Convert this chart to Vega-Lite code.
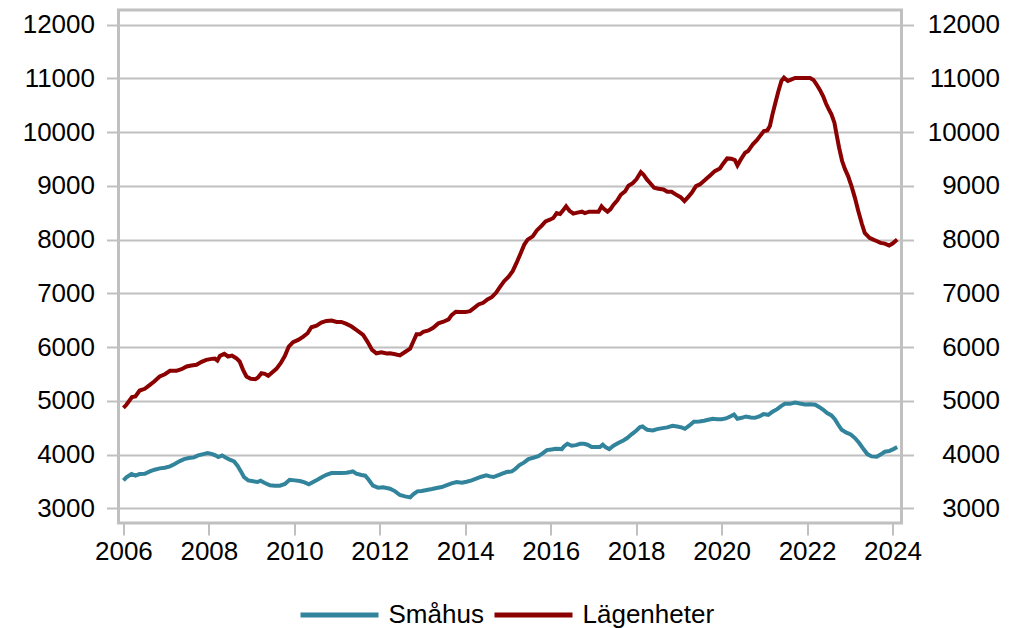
{
  "$schema": "https://vega.github.io/schema/vega-lite/v6.json",
  "autosize": {"type": "none"},
  "width": 783,
  "height": 513,
  "padding": {"left": 118.5, "top": 10, "right": 120.5, "bottom": 105},
  "background": "white",
  "config": {
    "view": {"stroke": "#c0c0c0", "strokeWidth": 3},
    "font": "Liberation Sans",
    "axis": {"labelFont": "Liberation Sans", "labelColor": "#000000", "labelFontSize": 26, "tickColor": "#c0c0c0", "tickWidth": 2, "tickSize": 12, "domain": false, "title": null},
    "legend": {"labelFont": "Liberation Sans"}
  },
  "datasets": {
    "main": [
      {"d": 2006.0, "s": "Småhus", "v": 3520},
      {"d": 2006.07, "s": "Småhus", "v": 3576},
      {"d": 2006.19, "s": "Småhus", "v": 3638},
      {"d": 2006.28, "s": "Småhus", "v": 3607},
      {"d": 2006.38, "s": "Småhus", "v": 3638},
      {"d": 2006.5, "s": "Småhus", "v": 3644},
      {"d": 2006.62, "s": "Småhus", "v": 3687},
      {"d": 2006.73, "s": "Småhus", "v": 3718},
      {"d": 2006.85, "s": "Småhus", "v": 3743},
      {"d": 2006.97, "s": "Småhus", "v": 3755},
      {"d": 2007.09, "s": "Småhus", "v": 3780},
      {"d": 2007.2, "s": "Småhus", "v": 3824},
      {"d": 2007.32, "s": "Småhus", "v": 3879},
      {"d": 2007.42, "s": "Småhus", "v": 3916},
      {"d": 2007.53, "s": "Småhus", "v": 3935},
      {"d": 2007.65, "s": "Småhus", "v": 3947},
      {"d": 2007.75, "s": "Småhus", "v": 3985},
      {"d": 2007.87, "s": "Småhus", "v": 4009},
      {"d": 2007.97, "s": "Småhus", "v": 4028},
      {"d": 2008.08, "s": "Småhus", "v": 4009},
      {"d": 2008.15, "s": "Småhus", "v": 3985},
      {"d": 2008.22, "s": "Småhus", "v": 3954},
      {"d": 2008.31, "s": "Småhus", "v": 3985},
      {"d": 2008.39, "s": "Småhus", "v": 3947},
      {"d": 2008.49, "s": "Småhus", "v": 3904},
      {"d": 2008.59, "s": "Småhus", "v": 3873},
      {"d": 2008.67, "s": "Småhus", "v": 3793},
      {"d": 2008.75, "s": "Småhus", "v": 3687},
      {"d": 2008.82, "s": "Småhus", "v": 3582},
      {"d": 2008.92, "s": "Småhus", "v": 3520},
      {"d": 2009.04, "s": "Småhus", "v": 3502},
      {"d": 2009.14, "s": "Småhus", "v": 3489},
      {"d": 2009.21, "s": "Småhus", "v": 3514},
      {"d": 2009.31, "s": "Småhus", "v": 3471},
      {"d": 2009.43, "s": "Småhus", "v": 3427},
      {"d": 2009.54, "s": "Småhus", "v": 3421},
      {"d": 2009.66, "s": "Småhus", "v": 3421},
      {"d": 2009.78, "s": "Småhus", "v": 3452},
      {"d": 2009.89, "s": "Småhus", "v": 3532},
      {"d": 2010.01, "s": "Småhus", "v": 3520},
      {"d": 2010.13, "s": "Småhus", "v": 3508},
      {"d": 2010.24, "s": "Småhus", "v": 3483},
      {"d": 2010.34, "s": "Småhus", "v": 3446},
      {"d": 2010.44, "s": "Småhus", "v": 3489},
      {"d": 2010.54, "s": "Småhus", "v": 3532},
      {"d": 2010.65, "s": "Småhus", "v": 3582},
      {"d": 2010.75, "s": "Småhus", "v": 3625},
      {"d": 2010.87, "s": "Småhus", "v": 3656},
      {"d": 2010.99, "s": "Småhus", "v": 3656},
      {"d": 2011.1, "s": "Småhus", "v": 3656},
      {"d": 2011.22, "s": "Småhus", "v": 3663},
      {"d": 2011.31, "s": "Småhus", "v": 3675},
      {"d": 2011.37, "s": "Småhus", "v": 3687},
      {"d": 2011.45, "s": "Småhus", "v": 3644},
      {"d": 2011.57, "s": "Småhus", "v": 3619},
      {"d": 2011.66, "s": "Småhus", "v": 3607},
      {"d": 2011.74, "s": "Småhus", "v": 3532},
      {"d": 2011.84, "s": "Småhus", "v": 3421},
      {"d": 2011.96, "s": "Småhus", "v": 3384},
      {"d": 2012.08, "s": "Småhus", "v": 3390},
      {"d": 2012.24, "s": "Småhus", "v": 3365},
      {"d": 2012.36, "s": "Småhus", "v": 3316},
      {"d": 2012.47, "s": "Småhus", "v": 3248},
      {"d": 2012.59, "s": "Småhus", "v": 3223},
      {"d": 2012.71, "s": "Småhus", "v": 3204},
      {"d": 2012.79, "s": "Småhus", "v": 3266},
      {"d": 2012.88, "s": "Småhus", "v": 3316},
      {"d": 2012.98, "s": "Småhus", "v": 3322},
      {"d": 2013.1, "s": "Småhus", "v": 3341},
      {"d": 2013.22, "s": "Småhus", "v": 3359},
      {"d": 2013.33, "s": "Småhus", "v": 3378},
      {"d": 2013.45, "s": "Småhus", "v": 3396},
      {"d": 2013.57, "s": "Småhus", "v": 3433},
      {"d": 2013.68, "s": "Småhus", "v": 3464},
      {"d": 2013.8, "s": "Småhus", "v": 3489},
      {"d": 2013.92, "s": "Småhus", "v": 3477},
      {"d": 2014.03, "s": "Småhus", "v": 3495},
      {"d": 2014.15, "s": "Småhus", "v": 3520},
      {"d": 2014.27, "s": "Småhus", "v": 3557},
      {"d": 2014.38, "s": "Småhus", "v": 3588},
      {"d": 2014.49, "s": "Småhus", "v": 3613},
      {"d": 2014.58, "s": "Småhus", "v": 3594},
      {"d": 2014.66, "s": "Småhus", "v": 3582},
      {"d": 2014.78, "s": "Småhus", "v": 3619},
      {"d": 2014.88, "s": "Småhus", "v": 3650},
      {"d": 2014.97, "s": "Småhus", "v": 3675},
      {"d": 2015.09, "s": "Småhus", "v": 3687},
      {"d": 2015.17, "s": "Småhus", "v": 3731},
      {"d": 2015.27, "s": "Småhus", "v": 3805},
      {"d": 2015.38, "s": "Småhus", "v": 3854},
      {"d": 2015.48, "s": "Småhus", "v": 3916},
      {"d": 2015.59, "s": "Småhus", "v": 3941},
      {"d": 2015.71, "s": "Småhus", "v": 3972},
      {"d": 2015.81, "s": "Småhus", "v": 4022},
      {"d": 2015.91, "s": "Småhus", "v": 4084},
      {"d": 2016.02, "s": "Småhus", "v": 4096},
      {"d": 2016.12, "s": "Småhus", "v": 4108},
      {"d": 2016.26, "s": "Småhus", "v": 4102},
      {"d": 2016.31, "s": "Småhus", "v": 4152},
      {"d": 2016.39, "s": "Småhus", "v": 4201},
      {"d": 2016.49, "s": "Småhus", "v": 4164},
      {"d": 2016.59, "s": "Småhus", "v": 4176},
      {"d": 2016.69, "s": "Småhus", "v": 4201},
      {"d": 2016.78, "s": "Småhus", "v": 4201},
      {"d": 2016.86, "s": "Småhus", "v": 4183},
      {"d": 2016.96, "s": "Småhus", "v": 4139},
      {"d": 2017.06, "s": "Småhus", "v": 4139},
      {"d": 2017.15, "s": "Småhus", "v": 4139},
      {"d": 2017.22, "s": "Småhus", "v": 4183},
      {"d": 2017.29, "s": "Småhus", "v": 4133},
      {"d": 2017.37, "s": "Småhus", "v": 4102},
      {"d": 2017.47, "s": "Småhus", "v": 4164},
      {"d": 2017.58, "s": "Småhus", "v": 4214},
      {"d": 2017.7, "s": "Småhus", "v": 4263},
      {"d": 2017.79, "s": "Småhus", "v": 4307},
      {"d": 2017.9, "s": "Småhus", "v": 4381},
      {"d": 2018.0, "s": "Småhus", "v": 4443},
      {"d": 2018.09, "s": "Småhus", "v": 4511},
      {"d": 2018.15, "s": "Småhus", "v": 4523},
      {"d": 2018.2, "s": "Småhus", "v": 4492},
      {"d": 2018.26, "s": "Småhus", "v": 4461},
      {"d": 2018.39, "s": "Småhus", "v": 4449},
      {"d": 2018.49, "s": "Småhus", "v": 4474},
      {"d": 2018.62, "s": "Småhus", "v": 4492},
      {"d": 2018.73, "s": "Småhus", "v": 4505},
      {"d": 2018.85, "s": "Småhus", "v": 4536},
      {"d": 2018.96, "s": "Småhus", "v": 4523},
      {"d": 2019.06, "s": "Småhus", "v": 4505},
      {"d": 2019.14, "s": "Småhus", "v": 4480},
      {"d": 2019.24, "s": "Småhus", "v": 4536},
      {"d": 2019.35, "s": "Småhus", "v": 4610},
      {"d": 2019.48, "s": "Småhus", "v": 4616},
      {"d": 2019.59, "s": "Småhus", "v": 4628},
      {"d": 2019.69, "s": "Småhus", "v": 4647},
      {"d": 2019.79, "s": "Småhus", "v": 4666},
      {"d": 2019.9, "s": "Småhus", "v": 4659},
      {"d": 2020.0, "s": "Småhus", "v": 4659},
      {"d": 2020.1, "s": "Småhus", "v": 4672},
      {"d": 2020.2, "s": "Småhus", "v": 4709},
      {"d": 2020.29, "s": "Småhus", "v": 4746},
      {"d": 2020.37, "s": "Småhus", "v": 4666},
      {"d": 2020.47, "s": "Småhus", "v": 4684},
      {"d": 2020.57, "s": "Småhus", "v": 4709},
      {"d": 2020.68, "s": "Småhus", "v": 4690},
      {"d": 2020.78, "s": "Småhus", "v": 4684},
      {"d": 2020.88, "s": "Småhus", "v": 4709},
      {"d": 2020.98, "s": "Småhus", "v": 4752},
      {"d": 2021.09, "s": "Småhus", "v": 4740},
      {"d": 2021.19, "s": "Småhus", "v": 4796},
      {"d": 2021.3, "s": "Småhus", "v": 4845},
      {"d": 2021.4, "s": "Småhus", "v": 4907},
      {"d": 2021.48, "s": "Småhus", "v": 4944},
      {"d": 2021.6, "s": "Småhus", "v": 4944},
      {"d": 2021.72, "s": "Småhus", "v": 4969},
      {"d": 2021.83, "s": "Småhus", "v": 4950},
      {"d": 2021.95, "s": "Småhus", "v": 4932},
      {"d": 2022.07, "s": "Småhus", "v": 4938},
      {"d": 2022.19, "s": "Småhus", "v": 4926},
      {"d": 2022.29, "s": "Småhus", "v": 4882},
      {"d": 2022.38, "s": "Småhus", "v": 4833},
      {"d": 2022.47, "s": "Småhus", "v": 4771},
      {"d": 2022.57, "s": "Småhus", "v": 4728},
      {"d": 2022.65, "s": "Småhus", "v": 4659},
      {"d": 2022.73, "s": "Småhus", "v": 4554},
      {"d": 2022.81, "s": "Småhus", "v": 4461},
      {"d": 2022.91, "s": "Småhus", "v": 4412},
      {"d": 2023.02, "s": "Småhus", "v": 4375},
      {"d": 2023.12, "s": "Småhus", "v": 4307},
      {"d": 2023.22, "s": "Småhus", "v": 4214},
      {"d": 2023.32, "s": "Småhus", "v": 4102},
      {"d": 2023.41, "s": "Småhus", "v": 4009},
      {"d": 2023.51, "s": "Småhus", "v": 3966},
      {"d": 2023.63, "s": "Småhus", "v": 3960},
      {"d": 2023.72, "s": "Småhus", "v": 4000},
      {"d": 2023.82, "s": "Småhus", "v": 4053},
      {"d": 2023.92, "s": "Småhus", "v": 4065},
      {"d": 2024.02, "s": "Småhus", "v": 4102},
      {"d": 2024.11, "s": "Småhus", "v": 4139},
      {"d": 2006.0, "s": "Lägenheter", "v": 4870},
      {"d": 2006.07, "s": "Lägenheter", "v": 4926},
      {"d": 2006.2, "s": "Lägenheter", "v": 5068},
      {"d": 2006.28, "s": "Lägenheter", "v": 5080},
      {"d": 2006.38, "s": "Lägenheter", "v": 5192},
      {"d": 2006.5, "s": "Lägenheter", "v": 5223},
      {"d": 2006.62, "s": "Lägenheter", "v": 5297},
      {"d": 2006.72, "s": "Lägenheter", "v": 5359},
      {"d": 2006.85, "s": "Lägenheter", "v": 5452},
      {"d": 2006.97, "s": "Lägenheter", "v": 5495},
      {"d": 2007.09, "s": "Lägenheter", "v": 5557},
      {"d": 2007.24, "s": "Lägenheter", "v": 5557},
      {"d": 2007.36, "s": "Lägenheter", "v": 5588},
      {"d": 2007.48, "s": "Lägenheter", "v": 5638},
      {"d": 2007.59, "s": "Lägenheter", "v": 5656},
      {"d": 2007.71, "s": "Lägenheter", "v": 5669},
      {"d": 2007.83, "s": "Lägenheter", "v": 5724},
      {"d": 2007.94, "s": "Lägenheter", "v": 5762},
      {"d": 2008.06, "s": "Lägenheter", "v": 5780},
      {"d": 2008.14, "s": "Lägenheter", "v": 5786},
      {"d": 2008.2, "s": "Lägenheter", "v": 5749},
      {"d": 2008.26, "s": "Lägenheter", "v": 5836},
      {"d": 2008.36, "s": "Lägenheter", "v": 5873},
      {"d": 2008.45, "s": "Lägenheter", "v": 5824},
      {"d": 2008.54, "s": "Lägenheter", "v": 5842},
      {"d": 2008.64, "s": "Lägenheter", "v": 5793},
      {"d": 2008.72, "s": "Lägenheter", "v": 5731},
      {"d": 2008.8, "s": "Lägenheter", "v": 5576},
      {"d": 2008.88, "s": "Lägenheter", "v": 5452},
      {"d": 2008.98, "s": "Lägenheter", "v": 5409},
      {"d": 2009.09, "s": "Lägenheter", "v": 5402},
      {"d": 2009.15, "s": "Lägenheter", "v": 5433},
      {"d": 2009.23, "s": "Lägenheter", "v": 5514},
      {"d": 2009.31, "s": "Lägenheter", "v": 5502},
      {"d": 2009.39, "s": "Lägenheter", "v": 5464},
      {"d": 2009.48, "s": "Lägenheter", "v": 5526},
      {"d": 2009.58, "s": "Lägenheter", "v": 5594},
      {"d": 2009.68, "s": "Lägenheter", "v": 5700},
      {"d": 2009.78, "s": "Lägenheter", "v": 5836},
      {"d": 2009.87, "s": "Lägenheter", "v": 6009},
      {"d": 2009.97, "s": "Lägenheter", "v": 6090},
      {"d": 2010.09, "s": "Lägenheter", "v": 6133},
      {"d": 2010.21, "s": "Lägenheter", "v": 6195},
      {"d": 2010.31, "s": "Lägenheter", "v": 6257},
      {"d": 2010.4, "s": "Lägenheter", "v": 6368},
      {"d": 2010.52, "s": "Lägenheter", "v": 6399},
      {"d": 2010.63, "s": "Lägenheter", "v": 6455},
      {"d": 2010.75, "s": "Lägenheter", "v": 6486},
      {"d": 2010.87, "s": "Lägenheter", "v": 6492},
      {"d": 2010.99, "s": "Lägenheter", "v": 6467},
      {"d": 2011.1, "s": "Lägenheter", "v": 6467},
      {"d": 2011.22, "s": "Lägenheter", "v": 6430},
      {"d": 2011.34, "s": "Lägenheter", "v": 6381},
      {"d": 2011.45, "s": "Lägenheter", "v": 6319},
      {"d": 2011.61, "s": "Lägenheter", "v": 6226},
      {"d": 2011.71, "s": "Lägenheter", "v": 6102},
      {"d": 2011.82, "s": "Lägenheter", "v": 5947},
      {"d": 2011.92, "s": "Lägenheter", "v": 5885},
      {"d": 2012.04, "s": "Lägenheter", "v": 5904},
      {"d": 2012.16, "s": "Lägenheter", "v": 5880},
      {"d": 2012.24, "s": "Lägenheter", "v": 5883},
      {"d": 2012.36, "s": "Lägenheter", "v": 5865},
      {"d": 2012.47, "s": "Lägenheter", "v": 5846},
      {"d": 2012.59, "s": "Lägenheter", "v": 5908},
      {"d": 2012.71, "s": "Lägenheter", "v": 5970},
      {"d": 2012.79, "s": "Lägenheter", "v": 6112},
      {"d": 2012.86, "s": "Lägenheter", "v": 6236},
      {"d": 2012.94, "s": "Lägenheter", "v": 6236},
      {"d": 2013.02, "s": "Lägenheter", "v": 6285},
      {"d": 2013.14, "s": "Lägenheter", "v": 6310},
      {"d": 2013.25, "s": "Lägenheter", "v": 6359},
      {"d": 2013.37, "s": "Lägenheter", "v": 6440},
      {"d": 2013.49, "s": "Lägenheter", "v": 6471},
      {"d": 2013.61, "s": "Lägenheter", "v": 6514},
      {"d": 2013.68, "s": "Lägenheter", "v": 6594},
      {"d": 2013.78, "s": "Lägenheter", "v": 6656},
      {"d": 2013.88, "s": "Lägenheter", "v": 6650},
      {"d": 2014.0, "s": "Lägenheter", "v": 6650},
      {"d": 2014.11, "s": "Lägenheter", "v": 6669},
      {"d": 2014.21, "s": "Lägenheter", "v": 6730},
      {"d": 2014.31, "s": "Lägenheter", "v": 6792},
      {"d": 2014.42, "s": "Lägenheter", "v": 6823},
      {"d": 2014.52, "s": "Lägenheter", "v": 6885},
      {"d": 2014.62, "s": "Lägenheter", "v": 6928},
      {"d": 2014.72, "s": "Lägenheter", "v": 7009},
      {"d": 2014.81, "s": "Lägenheter", "v": 7114},
      {"d": 2014.91, "s": "Lägenheter", "v": 7225},
      {"d": 2015.01, "s": "Lägenheter", "v": 7306},
      {"d": 2015.11, "s": "Lägenheter", "v": 7411},
      {"d": 2015.2, "s": "Lägenheter", "v": 7565},
      {"d": 2015.3, "s": "Lägenheter", "v": 7751},
      {"d": 2015.38, "s": "Lägenheter", "v": 7905},
      {"d": 2015.46, "s": "Lägenheter", "v": 7998},
      {"d": 2015.58, "s": "Lägenheter", "v": 8060},
      {"d": 2015.67, "s": "Lägenheter", "v": 8165},
      {"d": 2015.79, "s": "Lägenheter", "v": 8258},
      {"d": 2015.88, "s": "Lägenheter", "v": 8338},
      {"d": 2015.98, "s": "Lägenheter", "v": 8369},
      {"d": 2016.06, "s": "Lägenheter", "v": 8400},
      {"d": 2016.14, "s": "Lägenheter", "v": 8493},
      {"d": 2016.22, "s": "Lägenheter", "v": 8474},
      {"d": 2016.3, "s": "Lägenheter", "v": 8555},
      {"d": 2016.36, "s": "Lägenheter", "v": 8617},
      {"d": 2016.44, "s": "Lägenheter", "v": 8536},
      {"d": 2016.53, "s": "Lägenheter", "v": 8481},
      {"d": 2016.65, "s": "Lägenheter", "v": 8505},
      {"d": 2016.73, "s": "Lägenheter", "v": 8518},
      {"d": 2016.8, "s": "Lägenheter", "v": 8493},
      {"d": 2016.9, "s": "Lägenheter", "v": 8518},
      {"d": 2017.0, "s": "Lägenheter", "v": 8518},
      {"d": 2017.12, "s": "Lägenheter", "v": 8518},
      {"d": 2017.19, "s": "Lägenheter", "v": 8617},
      {"d": 2017.25, "s": "Lägenheter", "v": 8567},
      {"d": 2017.33, "s": "Lägenheter", "v": 8518},
      {"d": 2017.4, "s": "Lägenheter", "v": 8567},
      {"d": 2017.47, "s": "Lägenheter", "v": 8648},
      {"d": 2017.56, "s": "Lägenheter", "v": 8728},
      {"d": 2017.64, "s": "Lägenheter", "v": 8833},
      {"d": 2017.74, "s": "Lägenheter", "v": 8895},
      {"d": 2017.82, "s": "Lägenheter", "v": 9000},
      {"d": 2017.92, "s": "Lägenheter", "v": 9049},
      {"d": 2018.01, "s": "Lägenheter", "v": 9124},
      {"d": 2018.11, "s": "Lägenheter", "v": 9255},
      {"d": 2018.17, "s": "Lägenheter", "v": 9211},
      {"d": 2018.25, "s": "Lägenheter", "v": 9118},
      {"d": 2018.32, "s": "Lägenheter", "v": 9056},
      {"d": 2018.42, "s": "Lägenheter", "v": 8963},
      {"d": 2018.52, "s": "Lägenheter", "v": 8944},
      {"d": 2018.64, "s": "Lägenheter", "v": 8932},
      {"d": 2018.73, "s": "Lägenheter", "v": 8888},
      {"d": 2018.83, "s": "Lägenheter", "v": 8888},
      {"d": 2018.95, "s": "Lägenheter", "v": 8826},
      {"d": 2019.04, "s": "Lägenheter", "v": 8789},
      {"d": 2019.13, "s": "Lägenheter", "v": 8714},
      {"d": 2019.22, "s": "Lägenheter", "v": 8795},
      {"d": 2019.3, "s": "Lägenheter", "v": 8870},
      {"d": 2019.4, "s": "Lägenheter", "v": 8994},
      {"d": 2019.49, "s": "Lägenheter", "v": 9025},
      {"d": 2019.61, "s": "Lägenheter", "v": 9106},
      {"d": 2019.73, "s": "Lägenheter", "v": 9193},
      {"d": 2019.84, "s": "Lägenheter", "v": 9273},
      {"d": 2019.96, "s": "Lägenheter", "v": 9323},
      {"d": 2020.04, "s": "Lägenheter", "v": 9416},
      {"d": 2020.13, "s": "Lägenheter", "v": 9509},
      {"d": 2020.23, "s": "Lägenheter", "v": 9503},
      {"d": 2020.31, "s": "Lägenheter", "v": 9478},
      {"d": 2020.37, "s": "Lägenheter", "v": 9379},
      {"d": 2020.45, "s": "Lägenheter", "v": 9491},
      {"d": 2020.55, "s": "Lägenheter", "v": 9615},
      {"d": 2020.62, "s": "Lägenheter", "v": 9646},
      {"d": 2020.73, "s": "Lägenheter", "v": 9770},
      {"d": 2020.82, "s": "Lägenheter", "v": 9845},
      {"d": 2020.91, "s": "Lägenheter", "v": 9938},
      {"d": 2020.99, "s": "Lägenheter", "v": 10019},
      {"d": 2021.07, "s": "Lägenheter", "v": 10031},
      {"d": 2021.13, "s": "Lägenheter", "v": 10112},
      {"d": 2021.19, "s": "Lägenheter", "v": 10329},
      {"d": 2021.25, "s": "Lägenheter", "v": 10516},
      {"d": 2021.33, "s": "Lägenheter", "v": 10764},
      {"d": 2021.4, "s": "Lägenheter", "v": 10950},
      {"d": 2021.46, "s": "Lägenheter", "v": 11012},
      {"d": 2021.55, "s": "Lägenheter", "v": 10950},
      {"d": 2021.64, "s": "Lägenheter", "v": 10981},
      {"d": 2021.72, "s": "Lägenheter", "v": 11005},
      {"d": 2021.83, "s": "Lägenheter", "v": 11005},
      {"d": 2021.95, "s": "Lägenheter", "v": 11005},
      {"d": 2022.07, "s": "Lägenheter", "v": 11005},
      {"d": 2022.15, "s": "Lägenheter", "v": 10969},
      {"d": 2022.22, "s": "Lägenheter", "v": 10888},
      {"d": 2022.3, "s": "Lägenheter", "v": 10783},
      {"d": 2022.38, "s": "Lägenheter", "v": 10658},
      {"d": 2022.44, "s": "Lägenheter", "v": 10534},
      {"d": 2022.5, "s": "Lägenheter", "v": 10435},
      {"d": 2022.57, "s": "Lägenheter", "v": 10329},
      {"d": 2022.64, "s": "Lägenheter", "v": 10174},
      {"d": 2022.69, "s": "Lägenheter", "v": 9957},
      {"d": 2022.75, "s": "Lägenheter", "v": 9708},
      {"d": 2022.82, "s": "Lägenheter", "v": 9460},
      {"d": 2022.89, "s": "Lägenheter", "v": 9304},
      {"d": 2022.96, "s": "Lägenheter", "v": 9180},
      {"d": 2023.04, "s": "Lägenheter", "v": 8994},
      {"d": 2023.12, "s": "Lägenheter", "v": 8776},
      {"d": 2023.2, "s": "Lägenheter", "v": 8528},
      {"d": 2023.28, "s": "Lägenheter", "v": 8298},
      {"d": 2023.35, "s": "Lägenheter", "v": 8124},
      {"d": 2023.46, "s": "Lägenheter", "v": 8031},
      {"d": 2023.55, "s": "Lägenheter", "v": 8000},
      {"d": 2023.64, "s": "Lägenheter", "v": 7969},
      {"d": 2023.72, "s": "Lägenheter", "v": 7938},
      {"d": 2023.82, "s": "Lägenheter", "v": 7925},
      {"d": 2023.92, "s": "Lägenheter", "v": 7888},
      {"d": 2024.0, "s": "Lägenheter", "v": 7925},
      {"d": 2024.11, "s": "Lägenheter", "v": 8000}
    ]
  },
  "data": {"name": "main"},
  "layer": [
    {
      "mark": {"type": "line", "strokeWidth": 4, "interpolate": "linear"},
      "encoding": {
        "x": {"field": "d", "type": "quantitative", "scale": {"domain": [2005.885, 2024.21], "nice": false, "zero": false},
          "axis": {"values": [2006, 2008, 2010, 2012, 2014, 2016, 2018, 2020, 2022, 2024], "format": "d", "grid": false, "labelPadding": 3, "labelFlush": false}},
        "y": {"field": "v", "type": "quantitative", "scale": {"domain": [2727, 12270], "nice": false, "zero": false},
          "axis": {"orient": "left", "values": [3000, 4000, 5000, 6000, 7000, 8000, 9000, 10000, 11000, 12000], "format": "d", "grid": true, "gridColor": "#c0c0c0", "gridWidth": 2, "labelPadding": 12}},
        "color": {"field": "s", "type": "nominal", "sort": ["Småhus", "Lägenheter"],
          "scale": {"domain": ["Småhus", "Lägenheter"], "range": ["#31849B", "#8B0000"]},
          "legend": {"orient": "none", "legendX": 199, "legendY": 583, "direction": "horizontal", "title": null, "symbolType": "M-2,0H2", "symbolSize": 1521, "symbolStrokeWidth": 5, "labelFontSize": 26, "labelColor": "#000000", "labelOffset": 27, "columnPadding": 0}}
      }
    },
    {
      "mark": {"type": "line", "strokeOpacity": 0},
      "encoding": {
        "x": {"field": "d", "type": "quantitative"},
        "y": {"field": "v", "type": "quantitative", "scale": {"domain": [2727, 12270], "nice": false, "zero": false},
          "axis": {"orient": "right", "values": [3000, 4000, 5000, 6000, 7000, 8000, 9000, 10000, 11000, 12000], "format": "d", "grid": false, "labelAlign": "right", "labelPadding": 86}},
        "detail": {"field": "s", "type": "nominal"}
      }
    }
  ],
  "resolve": {"scale": {"y": "independent"}, "axis": {"y": "independent"}}
}
